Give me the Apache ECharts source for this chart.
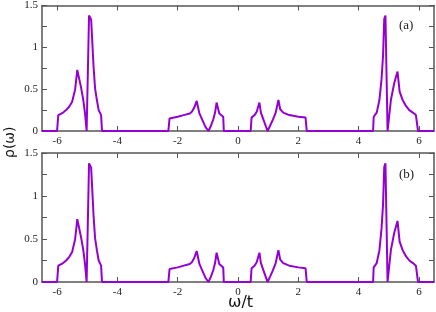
<!DOCTYPE html>
<html><head><meta charset="utf-8">
<script src="https://cdn.jsdelivr.net/npm/echarts@6/dist/echarts.min.js"></script>
<style>html,body{margin:0;padding:0;background:#fff}#c{width:436px;height:312px}</style>
</head><body><div id="c"></div>
<script>
// omega/t values and density of states rho(omega)
var omega = [-6.5,-6.0,-5.96,-5.92,-5.8,-5.7,-5.6,-5.5,-5.46,-5.4,-5.33,-5.21,-5.13,-5.07,-5.02,-4.98,-4.94,-4.87,-4.79,-4.74,-4.68,-4.62,-4.54,-4.51,
  -2.31,-2.27,-2.0,-1.8,-1.6,-1.53,-1.45,-1.37,-1.28,-1.18,-1.08,-0.98,-0.9,-0.82,-0.76,-0.71,-0.62,-0.49,-0.47,
  0.42,0.45,0.55,0.62,0.71,0.76,0.85,0.92,0.98,1.06,1.15,1.25,1.34,1.4,1.5,1.7,2.0,2.24,2.28,
  4.48,4.5,4.6,4.69,4.76,4.81,4.85,4.89,4.96,5.02,5.07,5.18,5.29,5.36,5.46,5.57,5.68,5.8,5.9,5.97,6.5];
var rhoA = [0,0,0.19,0.2,0.22,0.25,0.29,0.35,0.41,0.5,0.73,0.53,0.37,0.2,0,0,1.38,1.33,0.77,0.51,0.37,0.25,0.19,0,
  0,0.15,0.17,0.19,0.21,0.23,0.28,0.36,0.21,0.13,0.05,0,0.06,0.14,0.22,0.34,0.21,0.17,0,
  0,0.16,0.19,0.23,0.34,0.22,0.13,0.06,0,0.06,0.13,0.22,0.37,0.26,0.22,0.19,0.17,0.16,0,
  0,0.17,0.22,0.37,0.62,0.9,1.34,1.38,0,0,0.37,0.57,0.71,0.47,0.37,0.3,0.25,0.22,0.19,0,0];
var rhoB = rhoA.slice();
var xTicks = [-6,-4,-2,0,2,4,6];
var yTicks = [0,0.25,0.5,0.75,1,1.25,1.5];
var yLabels = [0,0.5,1,1.5];
var panelLabels = ['(a)','(b)'];

var chart = echarts.init(document.getElementById('c'));
var axisCol = '#555';
var labelFont = {fontFamily:'Liberation Serif', fontSize:11, color:'#222'};
function xAx(gi, pos, showLabel){
  return {type:'value', gridIndex:gi, position:pos, min:-6.5, max:6.5,
    axisLine:{show:true, onZero:false, lineStyle:{color:axisCol, width:1.5}},
    axisTick:{show:true, inside:true, length:5, customValues:xTicks, lineStyle:{color:axisCol}},
    axisLabel:Object.assign({show:showLabel, customValues:xTicks, margin:5}, labelFont),
    splitLine:{show:false}};
}
function yAx(gi, pos, showLabel){
  return {type:'value', gridIndex:gi, position:pos, min:0, max:1.5,
    axisLine:{show:true, onZero:false, lineStyle:{color:axisCol, width:1.5}},
    axisTick:{show:true, inside:true, length:5, customValues:yTicks, lineStyle:{color:axisCol}},
    axisLabel:Object.assign({show:showLabel, customValues:yLabels, margin:4}, labelFont),
    splitLine:{show:false}};
}
function pts(r){ return omega.map(function(w,i){return [w,r[i]];}); }
var lineStyle = {color:'#9400d3', width:2};
chart.setOption({
  animation:false,
  grid:[{left:42, top:5, width:392, height:126},{left:42, top:153, width:392, height:129}],
  xAxis:[xAx(0,'bottom',true), xAx(0,'top',false), xAx(1,'bottom',true), xAx(1,'top',false)],
  yAxis:[yAx(0,'left',true), yAx(0,'right',false), yAx(1,'left',true), yAx(1,'right',false)],
  series:[
    {type:'line', xAxisIndex:0, yAxisIndex:0, data:pts(rhoA), showSymbol:false, lineStyle:lineStyle, itemStyle:{color:'#9400d3'}},
    {type:'line', xAxisIndex:2, yAxisIndex:2, data:pts(rhoB), showSymbol:false, lineStyle:lineStyle, itemStyle:{color:'#9400d3'}}
  ],
  graphic:[
    {type:'text', left:399, top:19, style:{text:panelLabels[0], font:'13px "Liberation Serif"', fill:'#222'}},
    {type:'text', left:399, top:168, style:{text:panelLabels[1], font:'13px "Liberation Serif"', fill:'#222'}},
    {type:'text', x:3, y:158, rotation:Math.PI/2, style:{text:'ρ(ω)', font:'14px "DejaVu Sans"', fill:'#111'}},
    {type:'text', left:228, top:295, style:{text:'ω/t', font:'16px "DejaVu Sans"', fill:'#111'}}
  ]
});
</script></body></html>
